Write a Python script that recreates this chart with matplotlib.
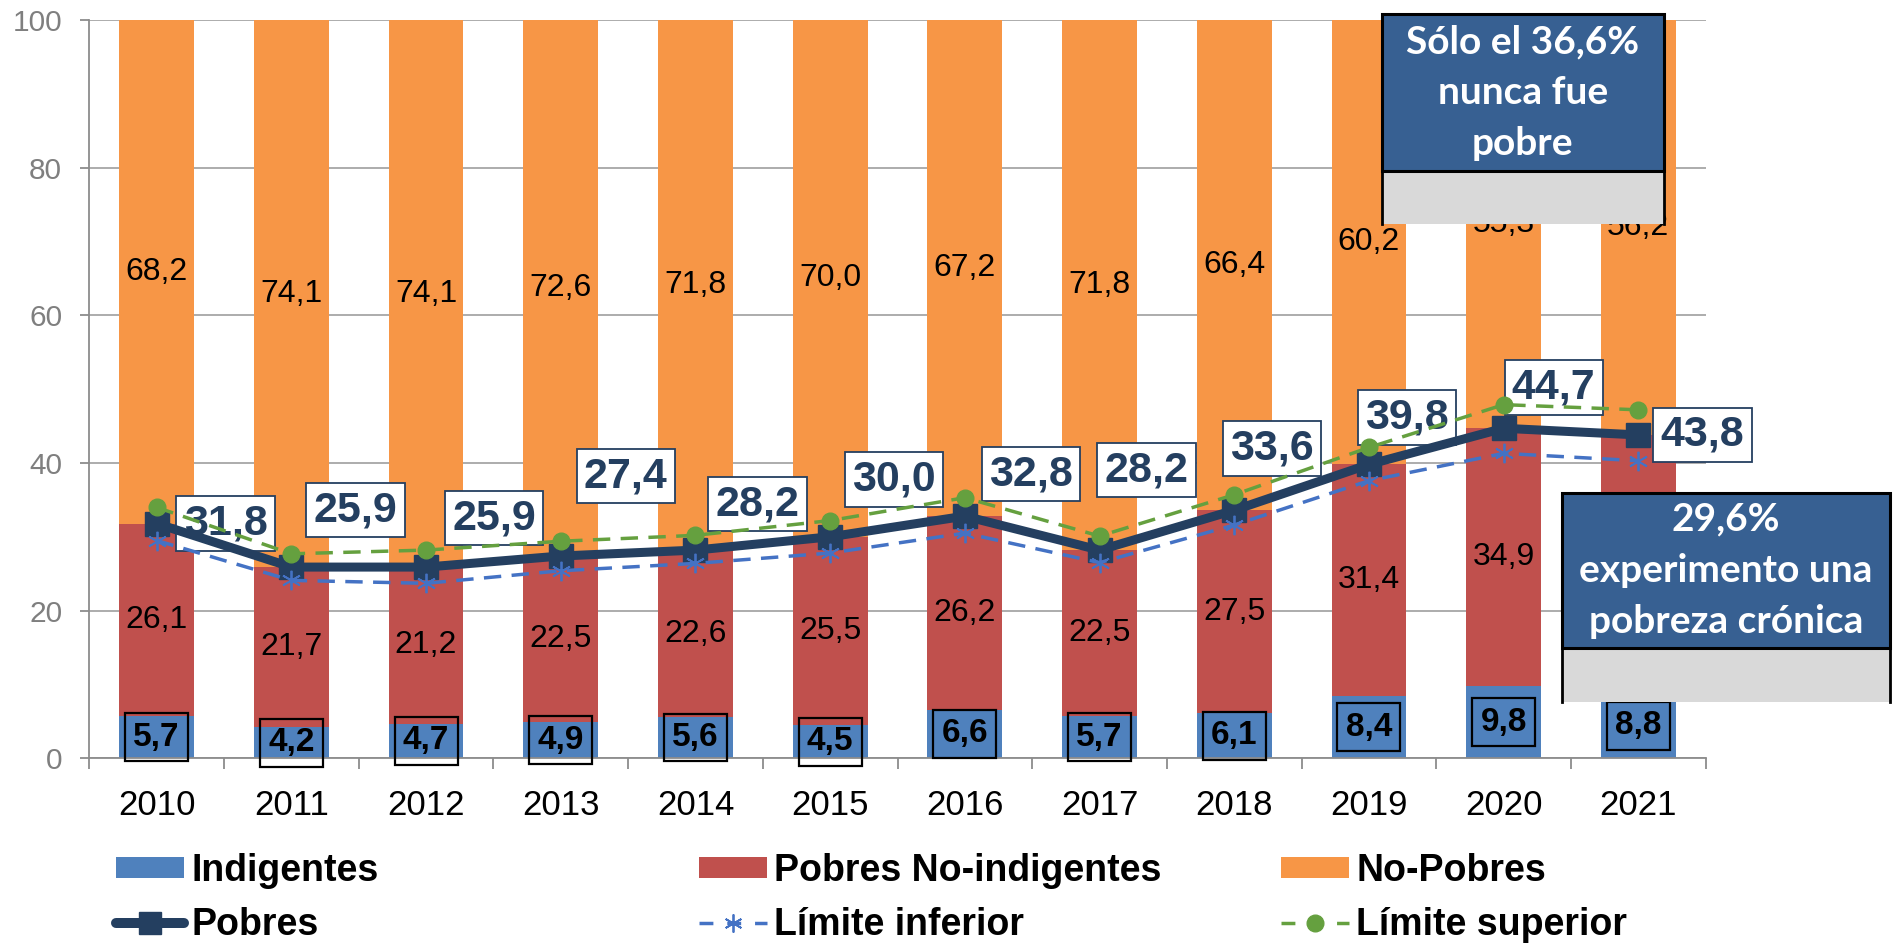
import matplotlib
matplotlib.use('Agg')
import matplotlib.pyplot as plt
import numpy as np
from matplotlib.patches import Rectangle, Patch
from matplotlib.lines import Line2D

# ---------------- data ----------------
years = ['2010', '2011', '2012', '2013', '2014', '2015',
         '2016', '2017', '2018', '2019', '2020', '2021']
indigentes = [5.7, 4.2, 4.7, 4.9, 5.6, 4.5, 6.6, 5.7, 6.1, 8.4, 9.8, 8.8]
pobres_no_ind = [26.1, 21.7, 21.2, 22.5, 22.6, 25.5, 26.2, 22.5, 27.5, 31.4, 34.9, 35.0]
no_pobres = [68.2, 74.1, 74.1, 72.6, 71.8, 70.0, 67.2, 71.8, 66.4, 60.2, 55.3, 56.2]
pobres = [31.8, 25.9, 25.9, 27.4, 28.2, 30.0, 32.8, 28.2, 33.6, 39.8, 44.7, 43.8]
lim_inf = [29.5, 24.1, 23.7, 25.4, 26.4, 27.8, 30.5, 26.5, 31.6, 37.6, 41.3, 40.3]
lim_sup = [34.0, 27.7, 28.2, 29.4, 30.2, 32.2, 35.3, 30.1, 35.7, 42.1, 47.9, 47.2]
y_ticks = [0, 20, 40, 60, 80, 100]
series_names = ['Indigentes', 'Pobres No-indigentes', 'No-Pobres',
                'Pobres', 'Límite inferior', 'Límite superior']
note_top = 'Sólo el 36,6%\nnunca fue\npobre'
note_right = '29,6%\nexperimento una\npobreza crónica'

# label placement for the "Pobres" values (pixel offsets from the point)
pobres_label_offsets = [(69, 0), (64, 57), (68, 49), (65, 80), (62, 46), (64, 57),
                        (66, 42), (47, 80), (38, 62), (38, 47), (50, 41), (64, 0)]

# ---------------- style ----------------
C_IND = '#4F81BD'
C_PNI = '#C0504D'
C_NP = '#F79646'
C_NAVY = '#243F60'
C_INF = '#4472C4'
C_SUP = '#65A03F'
C_GRID = '#A6A6A6'
C_BOX = '#376092'
C_GRAYBOX = '#D9D9D9'

plt.rcParams['font.family'] = ['Liberation Sans', 'DejaVu Sans']

W, H = 1894, 944
fig = plt.figure(figsize=(W / 100, H / 100), dpi=100)
ax_l, ax_r, ax_t, ax_b = 89.3, 1705.7, 20.0, 758.3
ax = fig.add_axes([ax_l / W, 1 - ax_b / H, (ax_r - ax_l) / W, (ax_b - ax_t) / H])


def fmt(v):
    return f'{v:.1f}'.replace('.', ',')


x = np.arange(len(years))
bw = 0.555
bottom2 = np.array(indigentes)
bottom3 = bottom2 + np.array(pobres_no_ind)
b1 = ax.bar(x, indigentes, width=bw, color=C_IND, zorder=2)
b2 = ax.bar(x, pobres_no_ind, width=bw, bottom=bottom2, color=C_PNI, zorder=2)
b3 = ax.bar(x, no_pobres, width=bw, bottom=bottom3, color=C_NP, zorder=2)

ax.bar_label(b3, labels=[fmt(v) for v in no_pobres], label_type='center',
             fontsize=23, color='black', zorder=3)
ax.bar_label(b2, labels=[fmt(v) for v in pobres_no_ind], label_type='center',
             fontsize=23, color='black', zorder=3)
ax.bar_label(b1, labels=[fmt(v) for v in indigentes], label_type='center',
             fontsize=24, fontweight='bold', color='black', zorder=4,
             bbox=dict(boxstyle='square,pad=0.25', fc='none', ec='black', lw=1.6))

for i, v in enumerate(pobres):
    ax.annotate(fmt(v), xy=(x[i], v), xytext=pobres_label_offsets[i],
                textcoords='offset pixels', ha='center', va='center',
                fontsize=31, fontweight='bold', color=C_NAVY, zorder=4,
                annotation_clip=False,
                bbox=dict(boxstyle='square,pad=0.17', fc='white', ec=C_NAVY, lw=1.3))

ax.plot(x, pobres, color=C_NAVY, lw=6.5, marker='s', ms=17,
        solid_capstyle='round', solid_joinstyle='round', zorder=6)
ax.plot(x, lim_inf, color=C_INF, lw=2.5, ls=(0, (5, 3)), marker=(6, 2, 0),
        ms=14, mew=1.3, zorder=7)
ax.plot(x, lim_sup, color=C_SUP, lw=2.5, ls=(0, (5, 3)), marker='o',
        ms=12, zorder=8)

ax.set_xlim(-0.5, len(years) - 0.5)
ax.set_ylim(0, 100)
ax.set_yticks(y_ticks)
ax.set_yticklabels([str(t) for t in y_ticks])
ax.set_xticks(x)
ax.set_xticklabels(years)
ax.set_xticks(np.arange(len(years) + 1) - 0.5, minor=True)
ax.set_axisbelow(True)
ax.grid(axis='y', color=C_GRID, lw=1.3, zorder=0)
for s in ['top', 'right']:
    ax.spines[s].set_visible(False)
for s in ['left', 'bottom']:
    ax.spines[s].set_color('#8C8C8C')
    ax.spines[s].set_linewidth(1.3)
ax.tick_params(axis='y', length=6.5, width=1.3, color='#8C8C8C', labelsize=21.5,
               labelcolor='#7F7F7F', pad=13)
ax.tick_params(axis='x', which='major', length=0, labelsize=25, labelcolor='black', pad=22)
ax.tick_params(axis='x', which='minor', length=8, width=1.3, color='#8C8C8C')


# ---------------- note boxes ----------------
def note_box(x0, x1, ytop, ymid, ybot, text):
    fx0, fx1 = x0 / W, x1 / W
    fig.patches.append(Rectangle((fx0, 1 - ybot / H), fx1 - fx0, (ybot - ymid) / H,
                                 transform=fig.transFigure, fc=C_GRAYBOX, ec='none',
                                 zorder=5))
    for xx in (fx0, fx1):
        fig.lines.append(Line2D([xx, xx], [1 - ybot / H, 1 - ymid / H],
                                transform=fig.transFigure, color='black', lw=2, zorder=6))
    fig.patches.append(Rectangle((fx0, 1 - ymid / H), fx1 - fx0, (ymid - ytop) / H,
                                 transform=fig.transFigure, fc=C_BOX, ec='black',
                                 lw=2.2, zorder=6))
    fig.text((fx0 + fx1) / 2, 1 - (ytop + ymid) / 2 / H, text, ha='center', va='center',
             color='white', fontsize=28, fontweight='bold', family=['Lato', 'DejaVu Sans'],
             linespacing=1.55, zorder=7)


note_box(1381.7, 1664, 14.3, 170.7, 224, note_top)
note_box(1561.7, 1890, 492.7, 647.7, 701.7, note_right)

# ---------------- legend ----------------
h_ind = Patch(fc=C_IND, ec='none')
h_pni = Patch(fc=C_PNI, ec='none')
h_np = Patch(fc=C_NP, ec='none')
h_pob = Line2D([], [], color=C_NAVY, lw=7.2, marker='s', ms=16, solid_capstyle='round')
h_inf = Line2D([], [], color=C_INF, lw=2.5, ls=(0, (4, 4)), marker=(6, 2, 0), ms=13, mew=1.3)
h_sup = Line2D([], [], color=C_SUP, lw=2.5, ls=(0, (4, 4)), marker='o', ms=12)
handles = [h_ind, h_pni, h_np, h_pob, h_inf, h_sup]
col_x = [116, 699, 1281]
for c in range(3):
    fig.legend([handles[c], handles[c + 3]], [series_names[c], series_names[c + 3]],
               loc='upper left', bbox_to_anchor=(col_x[c] / W, 1 - 853 / H),
               bbox_transform=fig.transFigure, frameon=False, borderpad=0,
               borderaxespad=0, handlelength=1.81, handleheight=0.5,
               handletextpad=0.2, labelspacing=0.48,
               prop=dict(family='Liberation Sans', weight='bold', size=27))

fig.savefig('out.png', dpi=100)
